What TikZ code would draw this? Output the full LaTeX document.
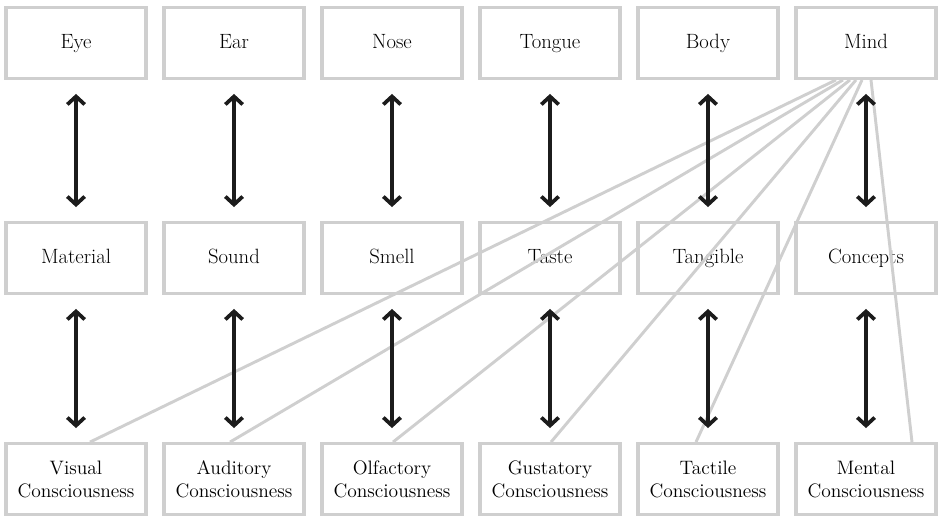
\documentclass[tikz,border=0pt]{standalone}
\usetikzlibrary{arrows.meta,calc}
\definecolor{boxgray}{RGB}{207,207,207}
\definecolor{arrowblack}{RGB}{28,28,28}
\tikzset{every picture/.style={line width=0.75pt}}
\tikzset{
	sensebox/.style={draw=boxgray, line width=2.4pt, minimum width=105pt, minimum height=53pt, inner sep=0pt, align=center, text height=2.0ex, text depth=0.2ex, font=\fontsize{15.5}{18}\selectfont},
	twoline/.style={draw=boxgray, line width=2.4pt, minimum width=105pt, minimum height=53pt, inner sep=0pt, align=center, font=\fontsize{14.6}{17.3}\selectfont},
	senselink/.style={draw=arrowblack, line width=2.8pt, {Straight Barb[length=6pt,width=13pt]}-{Straight Barb[length=6pt,width=13pt]}, shorten <=10.5pt, shorten >=10.5pt},
	mindlink/.style={draw=boxgray, line width=2.2pt}}

\begin{document}
\begin{tikzpicture}[x=0.75pt,y=0.75pt,yscale=-1,xscale=1]
	\useasboundingbox (0,0) rectangle (939,517); %set diagram to the size of the reference

	%Shape: Rectangle, top row
	\node [sensebox] (eye) at (76,43) {Eye};
	\node [sensebox] (ear) at (234,43) {Ear};
	\node [sensebox] (nose) at (392,43) {Nose};
	\node [sensebox] (tongue) at (550,43) {Tongue};
	\node [sensebox] (body) at (708,43) {Body};
	\node [sensebox] (mind) at (866,43) {Mind};

	%Shape: Rectangle, middle row
	\node [sensebox] (material) at (76,258) {Material};
	\node [sensebox] (sound) at (234,258) {Sound};
	\node [sensebox] (smell) at (392,258) {Smell};
	\node [sensebox] (taste) at (550,258) {Taste};
	\node [sensebox] (tangible) at (708,258) {Tangible};
	\node [sensebox] (concepts) at (866,258) {Concepts};

	%Shape: Rectangle, bottom row
	\node [twoline] (visual) at (76,479) {Visual\\Consciousness};
	\node [twoline] (auditory) at (234,479) {Auditory\\Consciousness};
	\node [twoline] (olfactory) at (392,479) {Olfactory\\Consciousness};
	\node [twoline] (gustatory) at (550,479) {Gustatory\\Consciousness};
	\node [twoline] (tactile) at (708,479) {Tactile\\Consciousness};
	\node [twoline] (mental) at (866,479) {Mental\\Consciousness};

	%Straight Lines from the mind
	\draw [mindlink] ($(mind.south)+(-30,0)$) -- ($(visual.north)+(14,0)$);
	\draw [mindlink] ($(mind.south)+(-23,0)$) -- ($(auditory.north)+(-4,0)$);
	\draw [mindlink] ($(mind.south)+(-16,0)$) -- ($(olfactory.north)+(1,0)$);
	\draw [mindlink] ($(mind.south)+(-10,0)$) -- ($(gustatory.north)+(1,0)$);
	\draw [mindlink] ($(mind.south)+(-4,0)$) -- ($(tactile.north)+(-12,0)$);
	\draw [mindlink] ($(mind.south)+(5,0)$) -- ($(mental.north)+(46,0)$);

	%Double Arrows, upper
	\draw [senselink] (eye) -- (material);
	\draw [senselink] (ear) -- (sound);
	\draw [senselink] (nose) -- (smell);
	\draw [senselink] (tongue) -- (taste);
	\draw [senselink] (body) -- (tangible);
	\draw [senselink] (mind) -- (concepts);

	%Double Arrows, lower
	\draw [senselink] (material) -- (visual);
	\draw [senselink] (sound) -- (auditory);
	\draw [senselink] (smell) -- (olfactory);
	\draw [senselink] (taste) -- (gustatory);
	\draw [senselink] (tangible) -- (tactile);
	\draw [senselink] (concepts) -- (mental);

\end{tikzpicture}
\end{document}
